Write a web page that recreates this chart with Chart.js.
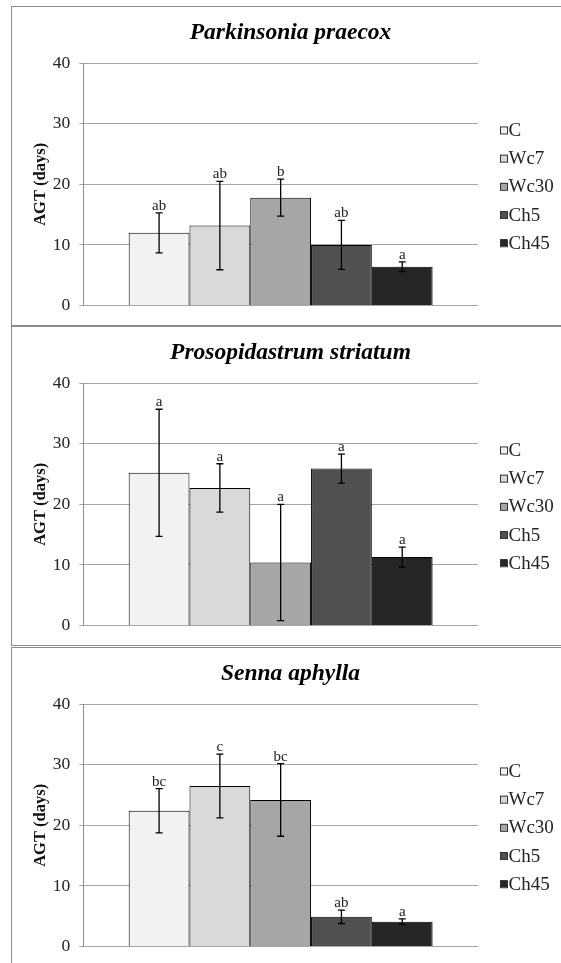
<!DOCTYPE html>
<html>
<head>
<meta charset="utf-8">
<title>AGT (days)</title>
<script src="https://cdn.jsdelivr.net/npm/chart.js@4.4.1/dist/chart.umd.min.js"></script>
<style>
    html, body { margin: 0; padding: 0; background: #fff; overflow: hidden; }
    .panel { position: absolute; left: 11px; width: 557px; height: 318px; border: 1px solid #8c8c8c; }
    .panel canvas { display: block; }
</style>
</head>
<body>
<div class="panel" style="top: 6px;"><canvas id="chart-parkinsonia" width="557" height="318"></canvas></div>
<div class="panel" style="top: 326px;"><canvas id="chart-prosopidastrum" width="557" height="318"></canvas></div>
<div class="panel" style="top: 647px;"><canvas id="chart-senna" width="557" height="318"></canvas></div>

<script>
const groups = ['C', 'Wc7', 'Wc30', 'Ch5', 'Ch45'];
const yTicks = [0, 10, 20, 30, 40];

const parkinsoniaMean = [12.0, 13.2, 17.8, 10.0, 6.4];
const parkinsoniaSd = [3.3, 7.3, 3.05, 4.05, 0.8];
const parkinsoniaLetters = ['ab', 'ab', 'b', 'ab', 'a'];

const prosopidastrumMean = [25.2, 22.7, 10.4, 25.9, 11.3];
const prosopidastrumSd = [10.5, 4.0, 9.6, 2.4, 1.65];
const prosopidastrumLetters = ['a', 'a', 'a', 'a', 'a'];

const sennaMean = [22.4, 26.5, 24.2, 4.9, 4.1];
const sennaSd = [3.65, 5.25, 6.0, 1.1, 0.45];
const sennaLetters = ['bc', 'c', 'bc', 'ab', 'a'];

const groupColors = ['#f2f2f2', '#d9d9d9', '#a6a6a6', '#505050', '#262626'];
const serif = "'Liberation Serif', 'Times New Roman', serif";

document.addEventListener('DOMContentLoaded', function () {
    if (typeof Chart === 'undefined') {
        console.error('Chart.js not loaded');
        return;
    }

    // error bars + significance letters, drawn on top of the bars
    const errorBarPlugin = {
        id: 'errorBars',
        afterDatasetsDraw: function (chart, args, opts) {
            const ctx = chart.ctx;
            const yScale = chart.scales.y;

            ctx.save();
            chart.data.datasets.forEach(function (dataset, i) {
                const bar = chart.getDatasetMeta(i).data[0];
                const mean = dataset.data[0];
                const sd = opts.sd[i];
                const x = bar.x;
                const top = yScale.getPixelForValue(mean + sd);
                const bottom = yScale.getPixelForValue(mean - sd);

                ctx.strokeStyle = '#000';
                ctx.lineWidth = 1.3;
                ctx.beginPath();
                ctx.moveTo(x, top);
                ctx.lineTo(x, bottom);
                ctx.moveTo(x - 3.5, top);
                ctx.lineTo(x + 3.5, top);
                ctx.moveTo(x - 3.5, bottom);
                ctx.lineTo(x + 3.5, bottom);
                ctx.stroke();

                ctx.fillStyle = '#222';
                ctx.font = '15px ' + serif;
                ctx.textAlign = 'center';
                ctx.textBaseline = 'alphabetic';
                ctx.fillText(opts.letters[i], x, top - 3);
            });
            ctx.restore();
        },
    };

    // small square legend to the right of the plot
    const sideLegendPlugin = {
        id: 'sideLegend',
        afterDraw: function (chart) {
            const ctx = chart.ctx;
            const area = chart.chartArea;
            const centerY = (area.top + area.bottom) / 2 + 2;
            const boxX = area.right + 22;

            ctx.save();
            chart.data.datasets.forEach(function (dataset, i) {
                const y = centerY + (i - 2) * 28.2;
                ctx.fillStyle = dataset.backgroundColor;
                ctx.fillRect(boxX, y - 3.5, 7, 7);
                ctx.strokeStyle = '#333';
                ctx.lineWidth = 1;
                ctx.strokeRect(boxX + 0.5, y - 3, 7, 7);

                ctx.fillStyle = '#222';
                ctx.font = '19px ' + serif;
                ctx.textAlign = 'left';
                ctx.textBaseline = 'middle';
                ctx.fillText(dataset.label, boxX + 8.5, y + 1);
            });
            ctx.restore();
        },
    };

    function buildChart(canvasId, title, means, sds, letters) {
        const canvas = document.getElementById(canvasId);
        if (!canvas) {
            return null;
        }

        return new Chart(canvas, {
            type: 'bar',
            data: {
                labels: [''],
                datasets: groups.map(function (group, i) {
                    return {
                        label: group,
                        data: [means[i]],
                        backgroundColor: groupColors[i],
                        borderColor: '#000',
                        borderWidth: 1,
                        categoryPercentage: 0.77,
                        barPercentage: 1,
                    };
                }),
            },
            options: {
                responsive: false,
                animation: false,
                layout: {
                    padding: { left: 0, right: 0, top: 0, bottom: 15 },
                },
                scales: {
                    x: {
                        display: false,
                    },
                    y: {
                        min: yTicks[0],
                        max: yTicks[yTicks.length - 1],
                        afterBuildTicks: function (scale) {
                            scale.ticks = yTicks.map(function (v) { return { value: v }; });
                        },
                        afterFit: function (scale) {
                            scale.width = 71.3;
                        },
                        ticks: {
                            padding: 9,
                            color: '#222',
                            font: { family: serif, size: 17.5 },
                        },
                        grid: {
                            color: '#a6a6a6',
                            tickLength: 4,
                        },
                        border: {
                            display: true,
                            color: '#8c8c8c',
                        },
                        title: {
                            display: true,
                            text: 'AGT (days)',
                            color: '#111',
                            padding: { top: 19, bottom: 4 },
                            font: { family: serif, size: 16.5, weight: 'bold' },
                        },
                    },
                    // empty right-hand strip that leaves room for the legend
                    legendSpace: {
                        axis: 'y',
                        position: 'right',
                        grid: { display: false },
                        border: { display: false },
                        ticks: { display: false },
                        afterFit: function (scale) {
                            scale.width = 91;
                        },
                    },
                },
                plugins: {
                    legend: { display: false },
                    tooltip: { enabled: false },
                    title: {
                        display: true,
                        text: title,
                        color: '#000',
                        font: { family: serif, size: 23.5, weight: 'bold', style: 'italic' },
                        padding: { top: 12, bottom: 16 },
                    },
                    errorBars: {
                        sd: sds,
                        letters: letters,
                    },
                },
            },
            plugins: [errorBarPlugin, sideLegendPlugin],
        });
    }

    buildChart('chart-parkinsonia', 'Parkinsonia praecox', parkinsoniaMean, parkinsoniaSd, parkinsoniaLetters);
    buildChart('chart-prosopidastrum', 'Prosopidastrum striatum', prosopidastrumMean, prosopidastrumSd, prosopidastrumLetters);
    buildChart('chart-senna', 'Senna aphylla', sennaMean, sennaSd, sennaLetters);
});
</script>
</body>
</html>
